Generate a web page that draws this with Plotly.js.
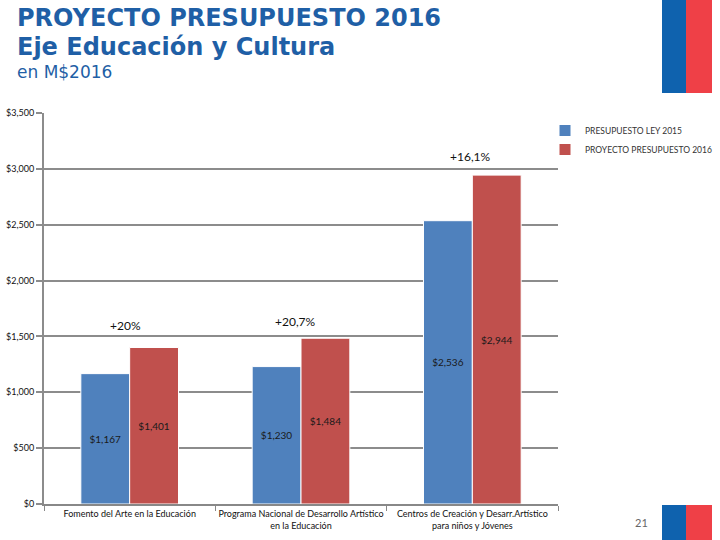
<!DOCTYPE html>
<html>
<head>
<meta charset="utf-8">
<script src="https://cdn.plot.ly/plotly-3.0.1.min.js"></script>
<style>html,body{margin:0;padding:0;background:#fff}#chart{width:720px;height:540px}</style>
</head>
<body>
<div id="chart"></div>
<script>
const categories = [
  "Fomento del Arte en la Educación",
  "Programa Nacional de Desarrollo Artístico<br>en la Educación",
  "Centros de Creación y Desarr.Artístico<br>para niños y Jóvenes"
];
const seriesNames = ["PRESUPUESTO LEY 2015", "PROYECTO PRESUPUESTO 2016"];
const ley2015 = [1167, 1230, 2536];
const proyecto2016 = [1401, 1484, 2944];
const changeLabels = ["+20%", "+20,7%", "+16,1%"];
const tickValues = [0, 500, 1000, 1500, 2000, 2500, 3000, 3500];

const fmt = v => "$" + v.toLocaleString("en-US");
const L = 44, R = 558, T = 113, B = 504;
const px = x => (x - L) / (R - L);
const py = y => (B - y) / (B - T);

const traces = [
  {type: "bar", name: seriesNames[0], x: categories, y: ley2015,
   marker: {color: "#4F81BD", line: {color: "#ffffff", width: 1}},
   text: ley2015.map(fmt), textposition: "inside", insidetextanchor: "middle",
   textfont: {family: "Lato, sans-serif", size: 10, color: "#1a1a1a"}, hoverinfo: "none"},
  {type: "bar", name: seriesNames[1], x: categories, y: proyecto2016,
   marker: {color: "#C0504D", line: {color: "#ffffff", width: 1}},
   text: proyecto2016.map(fmt), textposition: "inside", insidetextanchor: "middle",
   textfont: {family: "Lato, sans-serif", size: 10, color: "#1a1a1a"}, hoverinfo: "none"}
];

const annY = [1602, 1638, 3115];
const annDx = [-4, -6, -2];
const annotations = changeLabels.map((t, i) => ({
  text: t, x: categories[i], y: annY[i], xref: "x", yref: "y", showarrow: false,
  xshift: annDx[i], font: {family: "Lato, sans-serif", size: 12, color: "#111"}
}));
annotations.push(
  {text: "<b>PROYECTO PRESUPUESTO 2016</b>", xref: "paper", yref: "paper", x: px(15), y: py(18),
   xanchor: "left", yanchor: "middle", showarrow: false,
   font: {family: "DejaVu Sans, sans-serif", size: 24, color: "#1F5FA6"}},
  {text: "<b>Eje Educación y Cultura</b>", xref: "paper", yref: "paper", x: px(15), y: py(47),
   xanchor: "left", yanchor: "middle", showarrow: false,
   font: {family: "DejaVu Sans, sans-serif", size: 24, color: "#1F5FA6"}},
  {text: "en M$2016", xref: "paper", yref: "paper", x: px(15), y: py(72),
   xanchor: "left", yanchor: "middle", showarrow: false,
   font: {family: "DejaVu Sans, sans-serif", size: 17, color: "#1F5FA6"}},
  {text: "21", xref: "paper", yref: "paper", x: px(641), y: py(522),
   xanchor: "center", yanchor: "middle", showarrow: false,
   font: {family: "Lato, sans-serif", size: 11, color: "#666"}}
);

const shapes = [
  {type: "rect", xref: "paper", yref: "paper", x0: px(662), x1: px(686), y0: py(93), y1: py(0), fillcolor: "#0F62AE", line: {width: 0}, layer: "above"},
  {type: "rect", xref: "paper", yref: "paper", x0: px(686), x1: px(712), y0: py(93), y1: py(0), fillcolor: "#EF4047", line: {width: 0}, layer: "above"},
  {type: "rect", xref: "paper", yref: "paper", x0: px(662), x1: px(686), y0: py(540), y1: py(505), fillcolor: "#0F62AE", line: {width: 0}, layer: "above"},
  {type: "rect", xref: "paper", yref: "paper", x0: px(686), x1: px(712), y0: py(540), y1: py(505), fillcolor: "#EF4047", line: {width: 0}, layer: "above"}
];

const layout = {
  width: 720, height: 540,
  margin: {l: L, r: 720 - R, t: T, b: 540 - B, pad: 0, autoexpand: false},
  paper_bgcolor: "#ffffff", plot_bgcolor: "#ffffff",
  barmode: "group", bargap: 0.43, bargroupgap: 0.0,
  showlegend: true,
  legend: {x: px(545), y: py(116), xanchor: "left", yanchor: "top",
           font: {family: "Lato, sans-serif", size: 8.5, color: "#333"},
           itemwidth: 30, tracegroupgap: 4, bgcolor: "rgba(0,0,0,0)"},
  xaxis: {type: "category", showgrid: false, showline: true, linecolor: "#888", linewidth: 2,
          ticks: "outside", tickson: "boundaries", ticklen: 5, tickcolor: "#888", tickwidth: 1,
          tickangle: 0,
          tickfont: {family: "Lato, sans-serif", size: 9, color: "#111"}, automargin: false},
  yaxis: {range: [0, 3500], tickvals: tickValues, ticktext: tickValues.map(fmt),
          showgrid: true, gridcolor: "#8c8c8c", gridwidth: 2, zeroline: false,
          showline: true, linecolor: "#8c8c8c", linewidth: 2,
          ticks: "outside", ticklen: 6, tickcolor: "#8c8c8c", tickwidth: 2,
          tickfont: {family: "Lato, sans-serif", size: 9, color: "#111"}, automargin: false},
  annotations: annotations,
  shapes: shapes
};

Plotly.newPlot("chart", traces, layout, {displayModeBar: false, staticPlot: true});
</script>
</body>
</html>
